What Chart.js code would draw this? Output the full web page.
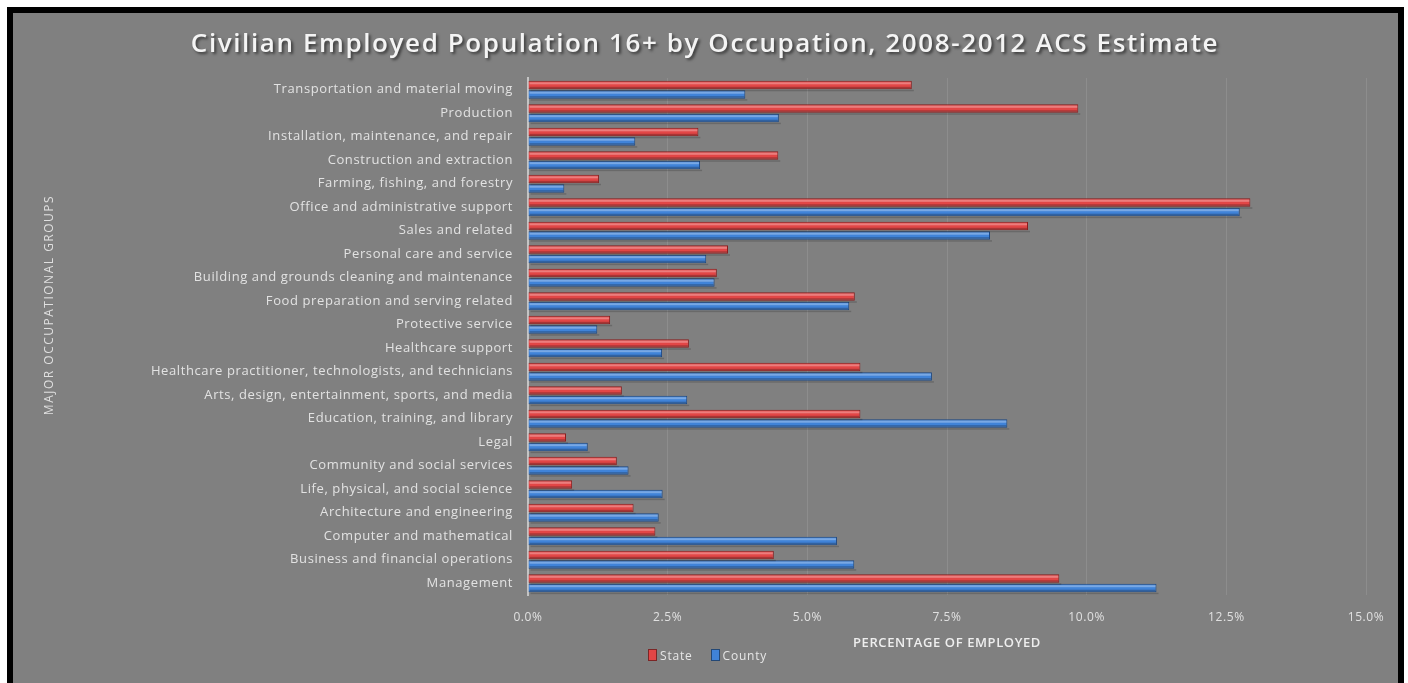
<!DOCTYPE html>
<html>
<head>
<meta charset="utf-8">
<title>Civilian Employed Population 16+ by Occupation</title>
<script src="https://cdn.jsdelivr.net/npm/chart.js@4"></script>
<style>
    html, body { margin: 0; padding: 0; background: #fff; overflow: hidden; width: 1408px; height: 683px; }
    #frame {
        position: absolute; left: 7px; top: 7px; width: 1385px; height: 700px;
        background: #808080; border: 6px solid #000;
    }
    #chartCanvas { position: absolute; left: 0; top: 0; }
    #legend {
        position: absolute; left: 648px; top: 647px;
        font: 12px "Open Sans", sans-serif; color: #e6e6e6; letter-spacing: 0.8px;
    }
    #legend span { margin-right: 18px; }
    #legend i {
        display: inline-block; width: 7px; height: 10px; margin-right: 3px; vertical-align: -1px;
        border: 1px solid rgba(0,0,0,0.45);
    }
</style>
</head>
<body>
<div id="frame"></div>
<canvas id="chartCanvas" width="1408" height="683"></canvas>
<div id="legend"></div>

<script>
// Chart data (percent of employed)
const chartTitle = 'Civilian Employed Population 16+ by Occupation, 2008-2012 ACS Estimate';
const seriesNames = ['State', 'County'];
const seriesColors = ['#e24646', '#4083d8'];

const categories = [
    'Transportation and material moving',
    'Production',
    'Installation, maintenance, and repair',
    'Construction and extraction',
    'Farming, fishing, and forestry',
    'Office and administrative support',
    'Sales and related',
    'Personal care and service',
    'Building and grounds cleaning and maintenance',
    'Food preparation and serving related',
    'Protective service',
    'Healthcare support',
    'Healthcare practitioner, technologists, and technicians',
    'Arts, design, entertainment, sports, and media',
    'Education, training, and library',
    'Legal',
    'Community and social services',
    'Life, physical, and social science',
    'Architecture and engineering',
    'Computer and mathematical',
    'Business and financial operations',
    'Management'
];

const stateValues = [6.87, 9.85, 3.05, 4.48, 1.27, 12.93, 8.95, 3.58, 3.38, 5.85, 1.47,
    2.88, 5.95, 1.68, 5.95, 0.68, 1.59, 0.79, 1.89, 2.28, 4.40, 9.51];
const countyValues = [3.89, 4.49, 1.92, 3.08, 0.65, 12.74, 8.27, 3.19, 3.34, 5.75, 1.24,
    2.40, 7.23, 2.85, 8.58, 1.07, 1.80, 2.41, 2.34, 5.53, 5.84, 11.25];

const xTicks = [0, 2.5, 5, 7.5, 10, 12.5, 15];

const FONT = '"Open Sans", "DejaVu Sans", sans-serif';

// Title, y-axis title, letter spacing and bar highlights
const decorPlugin = {
    id: 'decor',
    beforeDraw(chart) {
        chart.ctx.letterSpacing = '0.6px';
    },
    afterDatasetsDraw(chart) {
        const ctx = chart.ctx;
        ctx.save();
        chart.data.datasets.forEach((ds, i) => {
            const meta = chart.getDatasetMeta(i);
            meta.data.forEach(bar => {
                const left = Math.min(bar.base, bar.x);
                const w = Math.abs(bar.x - bar.base);
                const top = bar.y - bar.height / 2;
                ctx.fillStyle = 'rgba(255,255,255,0.3)';
                ctx.fillRect(left + 1, top + 1.5, w - 2, 2);
                ctx.fillStyle = 'rgba(0,0,0,0.25)';
                ctx.fillRect(left + 1, top + bar.height - 2.5, w - 2, 1.5);
                ctx.fillStyle = 'rgba(0,0,0,0.18)';
                ctx.fillRect(left + 2, top + bar.height + 0.5, w, 1.5);
            });
        });
        ctx.restore();
    },
    afterDraw(chart) {
        const ctx = chart.ctx;
        ctx.save();
        ctx.textAlign = 'center';
        ctx.textBaseline = 'middle';

        ctx.shadowColor = 'rgba(0,0,0,0.55)';
        ctx.shadowOffsetX = 2;
        ctx.shadowOffsetY = 2;
        ctx.shadowBlur = 3;
        ctx.fillStyle = '#f4f4f4';
        ctx.letterSpacing = '1.6px';
        ctx.font = '600 26px ' + FONT;
        ctx.fillText(chartTitle, 705, 45);

        ctx.shadowColor = 'transparent';
        ctx.translate(50, 305);
        ctx.rotate(-Math.PI / 2);
        ctx.fillStyle = '#e0e0e0';
        ctx.letterSpacing = '1.5px';
        ctx.font = '12px ' + FONT;
        ctx.fillText('MAJOR OCCUPATIONAL GROUPS', 0, 0);
        ctx.restore();
    }
};

class OccupationChart {
    constructor() {
        this.chart = null;
        this.init();
    }

    init() {
        this.buildLegend();
        this.createChart();
    }

    buildLegend() {
        const legend = document.getElementById('legend');
        legend.innerHTML = seriesNames.map((name, i) =>
            `<span><i style="background:${seriesColors[i]}"></i>${name}</span>`
        ).join('');
    }

    createChart() {
        const canvas = document.getElementById('chartCanvas');
        const ctx = canvas.getContext('2d');

        this.chart = new Chart(ctx, {
            type: 'bar',
            data: {
                labels: categories,
                datasets: [
                    {
                        label: seriesNames[0],
                        data: stateValues,
                        backgroundColor: seriesColors[0],
                        borderColor: '#8a1e1e',
                        borderWidth: 1
                    },
                    {
                        label: seriesNames[1],
                        data: countyValues,
                        backgroundColor: seriesColors[1],
                        borderColor: '#1c4884',
                        borderWidth: 1
                    }
                ]
            },
            options: {
                indexAxis: 'y',
                responsive: false,
                devicePixelRatio: 1,
                animation: false,
                categoryPercentage: 0.8,
                barPercentage: 0.9,
                layout: {
                    padding: { top: 78, right: 42, bottom: 0, left: 0 }
                },
                plugins: {
                    legend: { display: false },
                    title: { display: false },
                    tooltip: { enabled: false }
                },
                scales: {
                    x: {
                        min: 0,
                        max: 15,
                        afterBuildTicks: (scale) => {
                            scale.ticks = xTicks.map(v => ({ value: v }));
                        },
                        afterFit: (scale) => { scale.height = 88; },
                        ticks: {
                            color: '#e0e0e0',
                            font: { family: FONT, size: 12 },
                            padding: 15,
                            callback: (v) => Number(v).toFixed(1) + '%'
                        },
                        grid: {
                            color: 'rgba(255,255,255,0.1)',
                            drawTicks: false
                        },
                        border: { display: false },
                        title: {
                            display: true,
                            text: 'PERCENTAGE OF EMPLOYED',
                            color: '#eeeeee',
                            font: { family: FONT, size: 13, weight: '600' },
                            padding: { top: 0, bottom: 32 }
                        }
                    },
                    y: {
                        afterFit: (scale) => { scale.width = 528; },
                        ticks: {
                            color: '#e2e2e2',
                            font: { family: FONT, size: 13 },
                            padding: 15,
                            autoSkip: false
                        },
                        grid: { display: false, drawTicks: false },
                        border: { display: true, color: '#c4c4c4', width: 2 }
                    }
                }
            },
            plugins: [decorPlugin]
        });
    }
}

document.addEventListener('DOMContentLoaded', () => {
    window.occupationChart = new OccupationChart();
});
</script>
</body>
</html>
